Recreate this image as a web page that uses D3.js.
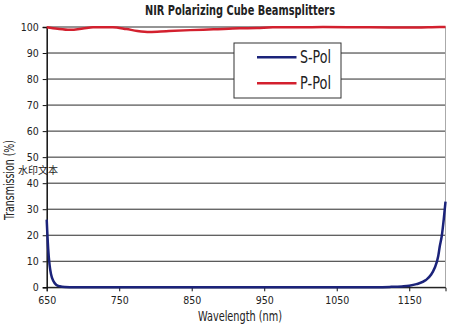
<!DOCTYPE html>
<html><head><meta charset="utf-8">
<script src="https://cdn.jsdelivr.net/npm/d3@7"></script>
<style>
html,body{margin:0;padding:0;background:#fff;}
svg{display:block;}
text{font-family:'Liberation Sans Narrow','DejaVu Sans Condensed',sans-serif;fill:#222;}
</style></head>
<body>
<script>
const title = "NIR Polarizing Cube Beamsplitters";
const xLabel = "Wavelength (nm)";
const yLabel = "Transmission (%)";
const watermark = "水印文本";
const xTicks = [650, 750, 850, 950, 1050, 1150];
const yTicks = [0, 10, 20, 30, 40, 50, 60, 70, 80, 90, 100];
const seriesNames = ["S-Pol", "P-Pol"];

const pWave = [650, 665, 682, 700, 714, 741, 760, 775, 792, 815, 848, 880, 916, 940, 962, 1000, 1031, 1080, 1123, 1160, 1192, 1200];
const pVals = [99.9, 99.3, 98.9, 99.4, 99.9, 99.9, 99.2, 98.5, 98.1, 98.4, 98.8, 99.1, 99.5, 99.6, 99.9, 99.9, 100, 99.9, 99.8, 99.8, 100, 100];

const sWave = [650, 652, 654, 656, 659, 663, 668, 675, 690, 750, 850, 950, 1050, 1100, 1123, 1140, 1150, 1160, 1173, 1180, 1185, 1190, 1192, 1195, 1197.5, 1200];
const sVals = [26, 15, 8.5, 5, 2.5, 1.0, 0.4, 0.15, 0.05, 0, 0, 0, 0, 0.05, 0.15, 0.35, 0.6, 1.2, 2.8, 4.8, 7.4, 12, 15.6, 20, 25.9, 32.9];

const W = 450, H = 329;
const svg = d3.select("body").append("svg").attr("width", W).attr("height", H);

const x = d3.scaleLinear().domain([650, 1200]).range([46.7, 445.5]);
const y = d3.scaleLinear().domain([0, 100]).range([287.3, 27]);

// gridlines
svg.append("g").selectAll("line").data(yTicks).join("line")
  .attr("x1", x(650)).attr("x2", x(1200))
  .attr("y1", d => y(d)).attr("y2", d => y(d))
  .attr("stroke", "#2a2a2a").attr("stroke-width", 1);

// right border
svg.append("line").attr("x1", x(1200)).attr("x2", x(1200)).attr("y1", y(100)).attr("y2", y(0))
  .attr("stroke", "#aaa").attr("stroke-width", 1);

// axes
const yAxis = d3.axisLeft(y).tickValues(yTicks).tickSize(4).tickPadding(4).tickFormat(d3.format("d"));
const gy = svg.append("g").attr("transform", `translate(${x(650)},0)`).call(yAxis);
gy.select(".domain").attr("stroke", "#111").attr("stroke-width", 1.5);
gy.selectAll(".tick line").attr("stroke", "#111");
gy.selectAll(".tick text").style("font-size", "10.5px").attr("fill", "#222")
  .style("font-family", "'Liberation Sans Narrow','DejaVu Sans Condensed',sans-serif");

const xAxis = d3.axisBottom(x).tickValues(xTicks).tickSize(4).tickPadding(5).tickFormat(d3.format("d"));
const gx = svg.append("g").attr("transform", `translate(0,${y(0)})`).call(xAxis);
gx.select(".domain").attr("stroke", "#111").attr("stroke-width", 1);
gx.selectAll(".tick line").attr("stroke", "#111");
gx.selectAll(".tick text").style("font-size", "10.5px").attr("fill", "#222")
  .style("font-family", "'Liberation Sans Narrow','DejaVu Sans Condensed',sans-serif");

// lines
const line = d3.line().x(d => x(d[0])).y(d => y(d[1])).curve(d3.curveMonotoneX);
svg.append("path").datum(sWave.map((w, i) => [w, sVals[i]]))
  .attr("d", line).attr("fill", "none").attr("stroke", "#1b237a").attr("stroke-width", 2.5);
svg.append("path").datum(pWave.map((w, i) => [w, pVals[i]]))
  .attr("d", line).attr("fill", "none").attr("stroke", "#d3202e").attr("stroke-width", 2.5);

// legend
const lg = svg.append("g");
lg.append("rect").attr("x", 234).attr("y", 43).attr("width", 107).attr("height", 55)
  .attr("fill", "#fff").attr("stroke", "#333").attr("stroke-width", 1);
const colors = ["#1b237a", "#d3202e"];
seriesNames.forEach((n, i) => {
  const yy = 57.3 + i * 26;
  lg.append("line").attr("x1", 257).attr("x2", 296.5).attr("y1", yy).attr("y2", yy)
    .attr("stroke", colors[i]).attr("stroke-width", 2.5);
  lg.append("text").attr("x", 300).attr("y", yy + 6).text(n)
    .style("font-size", "17px").attr("fill", "#111")
    .attr("textLength", 31).attr("lengthAdjust", "spacingAndGlyphs");
});

// title
svg.append("text").attr("x", 240).attr("y", 14.5).attr("text-anchor", "middle")
  .style("font-size", "14.5px").style("font-weight", "bold").attr("fill", "#111")
  .attr("textLength", 190).attr("lengthAdjust", "spacingAndGlyphs").text(title);

// axis labels
svg.append("text").attr("x", 240).attr("y", 320.5).attr("text-anchor", "middle")
  .style("font-size", "14px").attr("fill", "#111")
  .attr("textLength", 84).attr("lengthAdjust", "spacingAndGlyphs").text(xLabel);
svg.append("text").attr("transform", "translate(13.5,180) rotate(-90)").attr("text-anchor", "middle")
  .style("font-size", "14px").attr("fill", "#111")
  .attr("textLength", 80).attr("lengthAdjust", "spacingAndGlyphs").text(yLabel);

// watermark
svg.append("text").attr("x", 18).attr("y", 173.5)
  .style("font-family", "'Noto Sans CJK SC',sans-serif").style("font-size", "10px").attr("fill", "#333")
  .text(watermark);
</script>
</body></html>
